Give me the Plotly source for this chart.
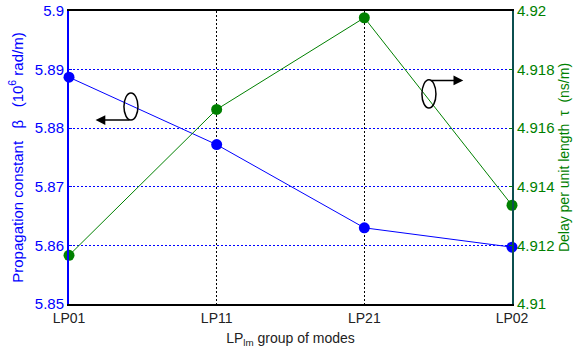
import plotly.graph_objects as go

# LP mode groups and their propagation constant / delay per unit length
modes = ["LP01", "LP11", "LP21", "LP02"]
mode_pos = [0, 1, 2, 3]
beta = [5.8887, 5.8772, 5.8630, 5.8597]        # 10^6 rad/m
tau = [4.91166, 4.91664, 4.91977, 4.91337]     # ns/m

beta_ticks = [5.85, 5.86, 5.87, 5.88, 5.89, 5.90]
beta_ticktext = ["5.85", "5.86", "5.87", "5.88", "5.89", "5.9"]
tau_ticks = [4.910, 4.912, 4.914, 4.916, 4.918, 4.920]
tau_ticktext = ["4.91", "4.912", "4.914", "4.916", "4.918", "4.92"]

BLUE = "#0000ff"
GREEN = "#008000"
TEAL = "#0b4f4f"
FONT = "Liberation Sans, Arial, sans-serif"
DOTS = "2px,2px"

fig = go.Figure()
fig.add_trace(go.Scatter(
    x=mode_pos, y=beta, mode="lines+markers",
    line=dict(color=BLUE, width=1),
    marker=dict(color=BLUE, size=11),
    cliponaxis=False, showlegend=False, yaxis="y",
))
fig.add_trace(go.Scatter(
    x=mode_pos, y=tau, mode="lines+markers",
    line=dict(color=GREEN, width=1),
    marker=dict(color=GREEN, size=11),
    cliponaxis=False, showlegend=False, yaxis="y2",
))

# Ellipse + arrow markers pointing each curve to its own axis
fig.add_shape(type="circle", xref="x", yref="y",
              x0=0.372, x1=0.467, y0=5.8814, y1=5.8860,
              line=dict(color="black", width=1.5))
fig.add_annotation(x=0.18, y=5.8814, ax=0.42, ay=5.8814,
                   xref="x", yref="y", axref="x", ayref="y",
                   text="", showarrow=True, arrowhead=2, arrowsize=1.3,
                   arrowwidth=1.5, arrowcolor="black")
fig.add_shape(type="circle", xref="x", yref="y2",
              x0=2.39, x1=2.485, y0=4.91669, y1=4.91765,
              line=dict(color="black", width=1.5))
fig.add_annotation(x=2.67, y=4.91763, ax=2.44, ay=4.91763,
                   xref="x", yref="y2", axref="x", ayref="y2",
                   text="", showarrow=True, arrowhead=2, arrowsize=1.3,
                   arrowwidth=1.5, arrowcolor="black")

fig.update_layout(
    template="none",
    width=573, height=358,
    margin=dict(l=69, r=61, t=11, b=54, autoexpand=False),
    paper_bgcolor="white", plot_bgcolor="white",
    font=dict(family=FONT, size=14, color="black"),
    xaxis=dict(
        range=[0, 3], tickmode="array", tickvals=mode_pos, ticktext=modes,
        showgrid=True, gridcolor="black", griddash=DOTS, gridwidth=1,
        showline=True, linecolor="black", linewidth=2, mirror=True,
        ticks="", zeroline=False, automargin=False,
        tickfont=dict(size=14, color="#222222"),
        title=dict(text="LP<sub>lm</sub> group of modes",
                   font=dict(size=14, color="#222222"), standoff=8),
    ),
    yaxis=dict(
        range=[5.85, 5.90], tickmode="array", tickvals=beta_ticks,
        ticktext=beta_ticktext,
        showgrid=True, gridcolor=BLUE, griddash=DOTS, gridwidth=1,
        showline=True, linecolor=BLUE, linewidth=2,
        ticks="inside", ticklen=3, tickcolor=BLUE, zeroline=False,
        automargin=False,
        tickfont=dict(size=15, color=BLUE),
        title=dict(text="Propagation constant   β   (10<sup>6</sup> rad/m)",
                   font=dict(size=15, color=BLUE), standoff=8),
    ),
    yaxis2=dict(
        range=[4.910, 4.920], tickmode="array", tickvals=tau_ticks,
        ticktext=tau_ticktext, overlaying="y", side="right",
        showgrid=False, showline=True, linecolor=TEAL, linewidth=2,
        ticks="inside", ticklen=3, tickcolor=GREEN, zeroline=False,
        automargin=False,
        tickfont=dict(size=15, color=GREEN),
        title=dict(text="Delay per unit length  τ  (ns/m)",
                   font=dict(size=14, color=GREEN), standoff=6),
    ),
)

fig.write_html("out.html")
